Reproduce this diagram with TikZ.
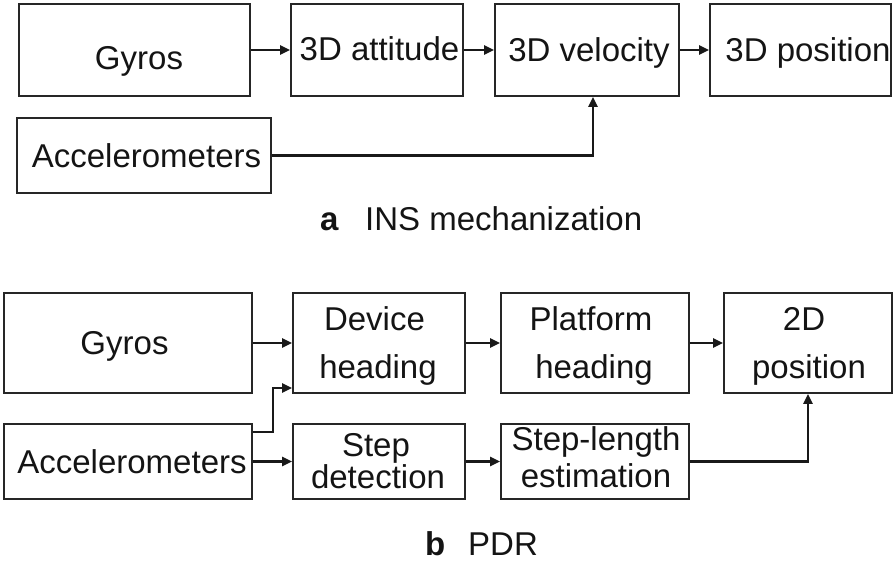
\documentclass[tikz,border=0pt]{standalone}
\usepackage{fontspec}
\setmainfont{Liberation Sans}
\usetikzlibrary{arrows.meta}
\begin{document}
\begin{tikzpicture}[x=1pt,y=-1pt,
  box/.style={draw=black!85, line width=1.8pt, inner sep=0pt},
  txt/.style={anchor=base, inner sep=0pt, text=black!92, font=\fontsize{33}{40}\selectfont},
  captxt/.style={anchor=base west, inner sep=0pt, text=black!92, font=\fontsize{33}{40}\selectfont},
  arr/.style={draw=black!90, line width=2.2pt, -{Triangle[length=10pt,width=9pt]}}]
\useasboundingbox (0,0) rectangle (896,568);
% ---------- a: INS mechanization ----------
\node[box, minimum width=231pt, minimum height=92pt] (g1) at (134.5,50) {};
\node[box, minimum width=172pt, minimum height=92pt] (att) at (377,50) {};
\node[box, minimum width=184pt, minimum height=92pt] (vel) at (587,50) {};
\node[box, minimum width=181pt, minimum height=92pt] (pos) at (800.5,50) {};
\node[box, minimum width=254pt, minimum height=75pt] (acc1) at (144,155.5) {};
\node[txt] (g1t) at (139,69) {Gyros};
\node[txt] (attt) at (379.5,60) {3D attitude};
\node[txt] (velt) at (589,61) {3D velocity};
\node[txt] (post) at (808,61) {3D position};
\node[txt] (acc1t) at (146.5,167) {Accelerometers};
\node[captxt] (capa) at (320,230) {\bfseries a};
\node[captxt] (capat) at (365,230) {INS mechanization};
\draw[arr] (g1.east) -- (att.west);
\draw[arr] (att.east) -- (vel.west);
\draw[arr] (vel.east) -- (pos.west);
\draw[arr] (acc1.east) -| ([xshift=6pt]vel.south);
% ---------- b: PDR ----------
\node[box, minimum width=248pt, minimum height=100pt] (g2) at (128,343) {};
\node[box, minimum width=172pt, minimum height=100pt] (dev) at (379,343) {};
\node[box, minimum width=188pt, minimum height=100pt] (plat) at (595,343) {};
\node[box, minimum width=168pt, minimum height=100pt] (pos2) at (808,343) {};
\node[box, minimum width=248pt, minimum height=75pt] (acc2) at (128,461.5) {};
\node[box, minimum width=172pt, minimum height=75pt] (step) at (379,461.5) {};
\node[box, minimum width=188pt, minimum height=75pt] (sl) at (595,461.5) {};
\node[txt] (g2t) at (124.5,354) {Gyros};
\node[txt] (devt1) at (374.5,330) {Device};
\node[txt] (devt2) at (378,378) {heading};
\node[txt] (platt1) at (591,330) {Platform};
\node[txt] (platt2) at (594,378) {heading};
\node[txt] (pos2t1) at (804,330) {2D};
\node[txt] (pos2t2) at (809,378) {position};
\node[txt] (acc2t) at (132,473) {Accelerometers};
\node[txt] (stept1) at (376,456) {Step};
\node[txt] (stept2) at (378,488) {detection};
\node[txt] (slt1) at (596,450) {Step-length};
\node[txt] (slt2) at (596,487) {estimation};
\node[captxt] (capb) at (425,555) {\bfseries b};
\node[captxt] (capbt) at (468,555) {PDR};
\draw[arr] (g2.east) -- (dev.west);
\draw[arr] ([yshift=29.5pt]acc2.east) -- ++(20,0) |- ([yshift=-45pt]dev.west);
\draw[arr] (acc2.east) -- (step.west);
\draw[arr] (dev.east) -- (plat.west);
\draw[arr] (plat.east) -- (pos2.west);
\draw[arr] (step.east) -- (sl.west);
\draw[arr] (sl.east) -| (pos2.south);
\end{tikzpicture}
\end{document}
